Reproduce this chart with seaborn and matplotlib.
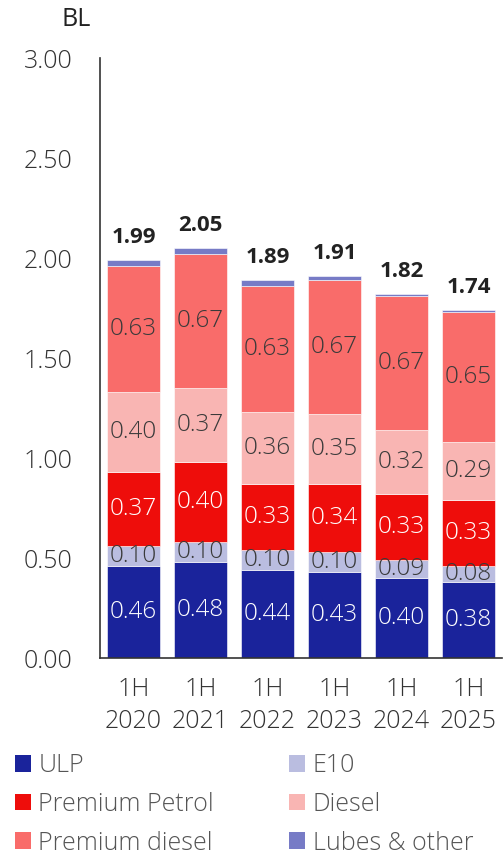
import matplotlib
matplotlib.use("Agg")
import matplotlib.pyplot as plt
import seaborn as sns
import numpy as np
import pandas as pd
from matplotlib.patches import Patch
from matplotlib.ticker import FixedLocator

periods = ["1H\n2020", "1H\n2021", "1H\n2022", "1H\n2023", "1H\n2024", "1H\n2025"]
ulp = [0.46, 0.48, 0.44, 0.43, 0.40, 0.38]
e10 = [0.10, 0.10, 0.10, 0.10, 0.09, 0.08]
premium_petrol = [0.37, 0.40, 0.33, 0.34, 0.33, 0.33]
diesel = [0.40, 0.37, 0.36, 0.35, 0.32, 0.29]
premium_diesel = [0.63, 0.67, 0.63, 0.67, 0.67, 0.65]
lubes = [0.03, 0.03, 0.03, 0.02, 0.01, 0.01]
totals = [1.99, 2.05, 1.89, 1.91, 1.82, 1.74]

series_names = ["ULP", "E10", "Premium Petrol", "Diesel", "Premium diesel", "Lubes & other"]
series_vals = [ulp, e10, premium_petrol, diesel, premium_diesel, lubes]
colors = ["#1a239b", "#babde0", "#ee0d0b", "#f9b5b3", "#f96c6a", "#777bc6"]
label_colors = ["white", "#3a3a3a", "white", "#3a3a3a", "#3a3a3a", None]

sns.set_style("white")
plt.rcParams["font.family"] = ["Open Sans", "DejaVu Sans"]
FS = 17.5

fig = plt.figure(figsize=(5.03, 8.58), dpi=100)
ax = fig.add_axes([100/503, 200/858, 402/503, 600/858])

df = pd.DataFrame({"period": periods})
cum = np.zeros(len(periods))
for name, vals, col in zip(series_names, series_vals, colors):
    sns.barplot(x=df["period"], y=np.array(vals), bottom=cum.copy(), color=col,
                width=0.78, edgecolor="white", linewidth=0.4, ax=ax, saturation=1)
    cum = cum + np.array(vals)

# segment labels
cum = np.zeros(len(periods))
for vals, lc in zip(series_vals, label_colors):
    v = np.array(vals)
    if lc is not None:
        for i, val in enumerate(v):
            ax.text(i, cum[i] + val / 2, f"{val:.2f}", ha="center", va="center",
                    color=lc, fontsize=FS, fontweight="light")
    cum = cum + v

for i, t in enumerate(totals):
    ax.text(i, t + 0.06, f"{t:.2f}", ha="center", va="bottom", color="#222222",
            fontsize=16, fontweight="bold")

ax.set_xlim(-0.5, 5.5)
ax.set_ylim(0, 3.0)
ax.set_yticks(np.arange(0, 3.01, 0.5))
ax.set_yticklabels([f"{v:.2f}" for v in np.arange(0, 3.01, 0.5)], fontsize=18,
                   color="#333333", fontweight="light")
for lbl in ax.get_xticklabels():
    lbl.set_linespacing(1.35)
    lbl.set_fontweight("light")
ax.set_xlabel("")
ax.set_ylabel("")
ax.tick_params(axis="x", which="major", length=0, labelsize=18, labelcolor="#333333", pad=14)
ax.xaxis.set_minor_locator(FixedLocator(np.arange(-0.5, 5.6, 1.0)))
ax.tick_params(axis="x", which="minor", length=8, width=1.2, color="#333333", direction="out")
ax.tick_params(axis="y", which="major", length=6, width=1.2, color="#333333", direction="out", pad=14)
for s in ["top", "right"]:
    ax.spines[s].set_visible(False)
for s in ["left", "bottom"]:
    ax.spines[s].set_color("#333333")
    ax.spines[s].set_linewidth(1.2)

fig.text(62/503, 1 - 20/858, "BL", fontsize=18, color="#222222", va="center", ha="left")

order = [0, 2, 4, 1, 3, 5]
handles = [Patch(facecolor=colors[k], edgecolor="none") for k in order]
names = [series_names[k] for k in order]
leg = fig.legend(handles, names, loc="lower left", bbox_to_anchor=(7/503, -5/858),
                 ncol=2, frameon=False, fontsize=18, labelcolor="#555555",
                 handlelength=0.65, handleheight=0.65, handletextpad=0.3, columnspacing=3.0,
                 labelspacing=0.55, borderpad=0.1, borderaxespad=0.2)
for t in leg.get_texts():
    t.set_fontweight("light")

fig.savefig("out.png", dpi=100)
